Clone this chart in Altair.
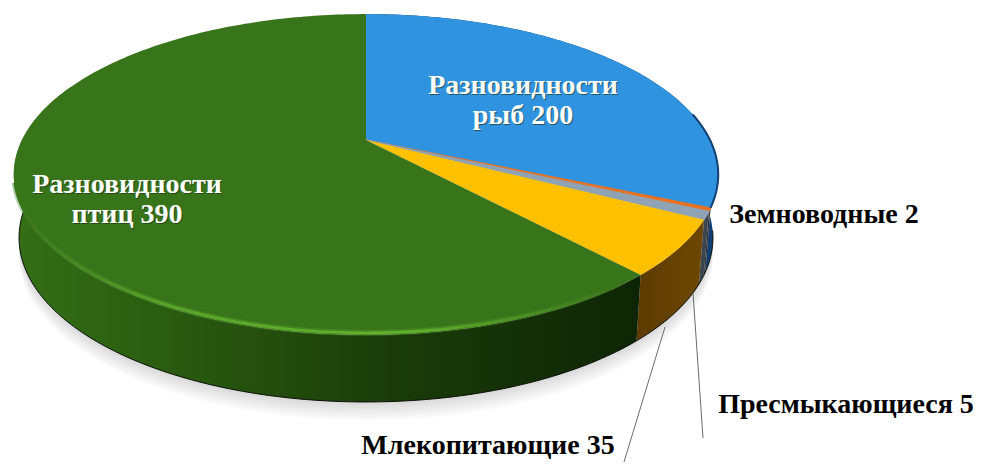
import math
import altair as alt
import pandas as pd

# --- data ---
categories = ["Разновидности рыб", "Земноводные", "Пресмыкающиеся", "Млекопитающие", "Разновидности птиц"]
values = [200, 2, 5, 35, 390]
face_colors = ["#2f93df", "#e8701f", "#8fa3b5", "#ffc000", "#38741a"]
wall_stops = [
    [("#0d2c52", 0), ("#123f74", 1)],
    [("#2f3338", 0), ("#2f3338", 1)],
    [("#3c4650", 0), ("#3c4650", 1)],
    [("#5c3b02", 0), ("#6e4703", 1)],
    [("#346f16", 0), ("#28570f", 0.3), ("#1b3c0a", 0.6), ("#0e2505", 1)],
]
label_lines = [
    ("Разновидности", 523, 86, "white"),
    ("рыб 200", 523, 116, "white"),
    ("Разновидности", 127, 185, "white"),
    ("птиц  390", 127, 215, "white"),
    ("Земноводные 2", 824, 215, "black"),
    ("Пресмыкающиеся  5", 846, 405, "black"),
    ("Млекопитающие 35", 488, 446, "black"),
]
leaders = [((693, 293), (703, 438)), ((665, 327), (624, 462))]

# --- projection of the disc ---
W, H = 965, 454
CX, CY = 366, 140
A, B, K = 344, 153, 0.215
FONT_SIZE = 28


def rim(t, lift=False):
    u, v = math.sin(t), math.cos(t)
    w = 1 + K * v
    x, y = A * u / w, -B * v / w
    if lift:
        x *= 0.985
        y = y * 0.985 + 62 - 8 * v
    return CX + x, CY + y


def arc(t0, t1, lift=False):
    n = max(2, int(abs(t1 - t0) * 60))
    return [rim(t0 + (t1 - t0) * i / n, lift) for i in range(n + 1)]


xs = alt.X("x:Q", axis=None, scale=alt.Scale(domain=[8, 8 + W], nice=False, zero=False))
ys = alt.Y("y:Q", axis=None, scale=alt.Scale(domain=[8, 8 + H], nice=False, zero=False, reverse=True))


def frame(pts):
    return pd.DataFrame({"x": [p[0] for p in pts], "y": [p[1] for p in pts], "i": range(len(pts))})


def poly(pts, **style):
    closed = list(pts) + [pts[0]]
    style.setdefault("strokeWidth", 0)
    return alt.Chart(frame(closed)).mark_line(interpolate="linear", **style).encode(x=xs, y=ys, order="i:Q")


def path(pts, **style):
    return alt.Chart(frame(pts)).mark_line(interpolate="linear", **style).encode(x=xs, y=ys, order="i:Q")


total = sum(values)
edges = [0.0]
for val in values:
    edges.append(edges[-1] + val / total * 2 * math.pi)

layers = []

# soft shadow under the disc
base = arc(math.radians(95), math.radians(285), True)
for off in (18, 15, 12, 9, 6, 3):
    pts = [(x, y + off) for x, y in base]
    layers.append(poly(pts, fill="#000000", fillOpacity=0.022))

# side walls
for idx in range(len(values)):
    t0, t1 = edges[idx], edges[idx + 1]
    if idx == 4:
        t1 = min(t1, math.radians(292))
    pts = arc(t0, t1) + arc(t1, t0, True)
    grad = alt.Gradient(
        gradient="linear", x1=0, y1=0, x2=1, y2=0,
        stops=[alt.GradientStop(color=c, offset=o) for c, o in wall_stops[idx]],
    )
    layers.append(poly(pts, fill=grad))

# dark bottom edge
layers.append(path(arc(math.radians(100), math.radians(285), True), stroke="#0a0f06", strokeWidth=1))

# top faces
for idx in range(len(values)):
    pts = [(CX, CY)] + arc(edges[idx], edges[idx + 1])
    extra = {"stroke": face_colors[idx], "strokeWidth": 1.2} if values[idx] < 10 else {}
    layers.append(poly(pts, fill=face_colors[idx], **extra))

# dark inner edge of the blue slice at the right
layers.append(path(arc(math.radians(80), edges[1]), stroke="#123f74", strokeWidth=2))

# light rim on the green front edge
rim_grad = alt.Gradient(
    gradient="linear", x1=0, y1=0, x2=1, y2=0,
    stops=[
        alt.GradientStop(color="#38741a", offset=0),
        alt.GradientStop(color="#5cab2a", offset=0.25),
        alt.GradientStop(color="#66b82f", offset=0.65),
        alt.GradientStop(color="#38741a", offset=1),
    ],
)
rim_pts = [(x, y - 2) for x, y in arc(math.radians(254), edges[4] + 0.08)]
layers.append(path(rim_pts, stroke=rim_grad, strokeWidth=6, strokeOpacity=0.3))
layers.append(path(rim_pts, stroke=rim_grad, strokeWidth=2.5, strokeOpacity=0.9))

# leader lines
for a, b in leaders:
    layers.append(path([a, b], stroke="#6b6b6b", strokeWidth=1))

# labels
for text, x, y, color in label_lines:
    one = pd.DataFrame([{"x": x, "y": y, "text": text}])
    common = dict(
        font="Liberation Serif", fontWeight="bold", fontSize=FONT_SIZE,
        align="center", baseline="middle",
    )
    if color == "white":
        layers.append(
            alt.Chart(one).mark_text(color="#17310f", opacity=0.6, dx=1, dy=1, **common)
            .encode(x=xs, y=ys, text="text:N")
        )
    layers.append(alt.Chart(one).mark_text(color=color, **common).encode(x=xs, y=ys, text="text:N"))

chart = (
    alt.layer(*layers)
    .properties(width=W, height=H, padding=0, autosize=alt.AutoSizeParams(type="none"), background="white")
    .configure_view(stroke=None)
)
chart.save("out.html", embed_options={"renderer": "svg", "actions": False})
